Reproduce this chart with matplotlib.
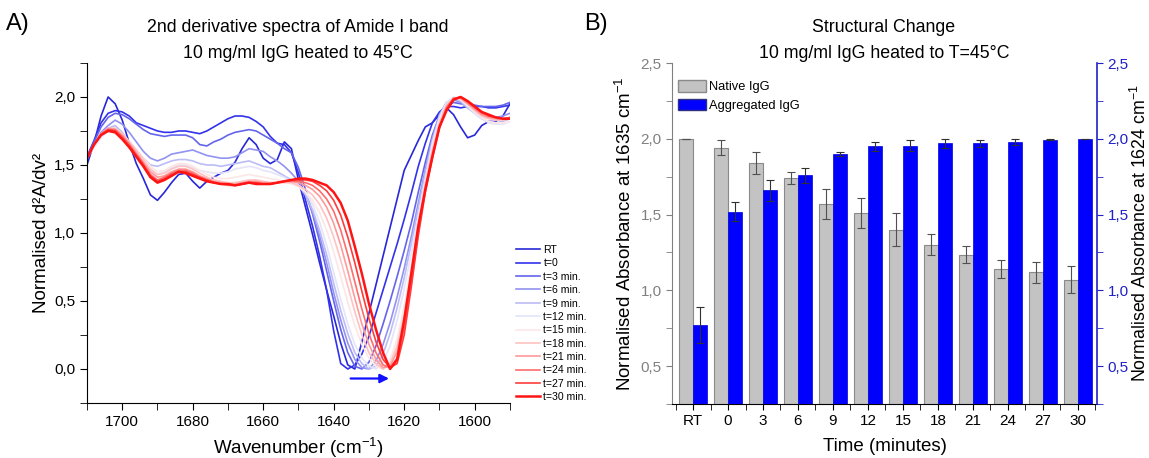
import matplotlib
matplotlib.use('Agg')
import matplotlib.pyplot as plt
from matplotlib.ticker import MultipleLocator, FuncFormatter, FixedLocator
from matplotlib.patches import Patch

plt.rcParams['font.family'] = ['Liberation Sans', 'DejaVu Sans']
plt.rcParams['mathtext.fontset'] = 'custom'
plt.rcParams['mathtext.rm'] = 'Liberation Sans'
plt.rcParams['mathtext.default'] = 'regular'

# ---------------- Panel A data ----------------
wavenumber = [1710, 1708, 1706, 1704, 1702, 1700, 1698, 1696, 1694, 1692,
              1690, 1688, 1686, 1684, 1682, 1680, 1678, 1676, 1674, 1672,
              1670, 1668, 1666, 1664, 1662, 1660, 1658, 1656, 1654, 1652,
              1650, 1648, 1646, 1644, 1642, 1640, 1638, 1636, 1634, 1632,
              1630, 1628, 1626, 1624, 1622, 1620, 1618, 1616, 1614, 1612,
              1610, 1608, 1606, 1604, 1602, 1600, 1598, 1596, 1594, 1592,
              1590]

spec_RT = [1.50, 1.66, 1.86, 2.00, 1.95, 1.83, 1.66, 1.51, 1.40, 1.28,
           1.24, 1.30, 1.37, 1.43, 1.44, 1.38, 1.33, 1.38, 1.41, 1.44,
           1.46, 1.52, 1.62, 1.70, 1.65, 1.55, 1.51, 1.54, 1.67, 1.62,
           1.39, 1.19, 0.99, 0.78, 0.58, 0.39, 0.19, 0.03, 0.00, 0.20,
           0.41, 0.62, 0.83, 1.04, 1.25, 1.46, 1.57, 1.68, 1.78, 1.81,
           1.87, 1.92, 1.87, 1.78, 1.70, 1.72, 1.79, 1.82, 1.82, 1.86,
           1.95]
spec_t0 = [1.56, 1.68, 1.81, 1.88, 1.90, 1.89, 1.86, 1.81, 1.79, 1.77,
           1.75, 1.74, 1.74, 1.75, 1.75, 1.74, 1.73, 1.75, 1.78, 1.81,
           1.84, 1.86, 1.86, 1.85, 1.82, 1.78, 1.71, 1.66, 1.65, 1.59,
           1.44, 1.24, 1.05, 0.83, 0.58, 0.28, 0.04, 0.00, 0.03, 0.11,
           0.24, 0.41, 0.58, 0.75, 0.92, 1.10, 1.29, 1.49, 1.66, 1.81,
           1.89, 1.93, 1.93, 1.92, 1.93, 1.93, 1.93, 1.92, 1.92, 1.93,
           1.94]
spec_t3 = [1.55, 1.67, 1.78, 1.85, 1.88, 1.87, 1.84, 1.80, 1.76, 1.73,
           1.72, 1.71, 1.72, 1.72, 1.72, 1.70, 1.65, 1.64, 1.67, 1.69,
           1.72, 1.74, 1.75, 1.76, 1.75, 1.72, 1.69, 1.66, 1.62, 1.59,
           1.48, 1.32, 1.14, 0.94, 0.72, 0.50, 0.29, 0.12, 0.02, 0.00,
           0.05, 0.17, 0.33, 0.50, 0.68, 0.87, 1.07, 1.30, 1.52, 1.72,
           1.86, 1.93, 1.96, 1.95, 1.95, 1.94, 1.93, 1.93, 1.93, 1.94,
           1.96]
spec_t6 = [1.55, 1.65, 1.74, 1.79, 1.83, 1.80, 1.74, 1.67, 1.60, 1.55,
           1.53, 1.55, 1.58, 1.59, 1.60, 1.61, 1.59, 1.57, 1.56, 1.55,
           1.55, 1.56, 1.59, 1.62, 1.61, 1.60, 1.56, 1.53, 1.49, 1.44,
           1.38, 1.28, 1.15, 0.98, 0.78, 0.56, 0.36, 0.19, 0.07, 0.01,
           0.00, 0.06, 0.18, 0.34, 0.53, 0.74, 0.97, 1.22, 1.47, 1.70,
           1.87, 1.96, 1.98, 1.96, 1.92, 1.89, 1.86, 1.85, 1.85, 1.86,
           1.88]
spec_t9 = [1.55, 1.64, 1.72, 1.77, 1.79, 1.74, 1.67, 1.61, 1.55, 1.50,
           1.49, 1.51, 1.53, 1.54, 1.54, 1.53, 1.51, 1.50, 1.50, 1.49,
           1.50, 1.51, 1.52, 1.53, 1.51, 1.49, 1.48, 1.45, 1.42, 1.39,
           1.35, 1.28, 1.17, 1.02, 0.84, 0.63, 0.43, 0.26, 0.12, 0.04,
           0.00, 0.02, 0.11, 0.26, 0.45, 0.67, 0.92, 1.18, 1.44, 1.68,
           1.86, 1.96, 1.99, 1.97, 1.92, 1.88, 1.84, 1.82, 1.81, 1.82,
           1.84]
spec_t12 = [1.55, 1.63, 1.70, 1.75, 1.77, 1.71, 1.63, 1.56, 1.50, 1.45,
            1.43, 1.45, 1.48, 1.50, 1.50, 1.48, 1.46, 1.45, 1.44, 1.44,
            1.45, 1.47, 1.48, 1.49, 1.48, 1.46, 1.45, 1.43, 1.41, 1.38,
            1.35, 1.30, 1.21, 1.08, 0.91, 0.71, 0.51, 0.33, 0.18, 0.08,
            0.02, 0.00, 0.05, 0.17, 0.36, 0.59, 0.85, 1.12, 1.40, 1.66,
            1.85, 1.96, 2.00, 1.98, 1.93, 1.88, 1.84, 1.81, 1.80, 1.80,
            1.82]
spec_t15 = [1.55, 1.64, 1.72, 1.76, 1.77, 1.73, 1.67, 1.61, 1.55, 1.49,
            1.45, 1.46, 1.49, 1.51, 1.51, 1.49, 1.46, 1.43, 1.41, 1.40,
            1.40, 1.41, 1.42, 1.43, 1.42, 1.41, 1.40, 1.39, 1.38, 1.36,
            1.34, 1.30, 1.24, 1.15, 1.02, 0.86, 0.68, 0.49, 0.32, 0.18,
            0.08, 0.02, 0.00, 0.07, 0.22, 0.46, 0.76, 1.08, 1.38, 1.63,
            1.82, 1.94, 1.99, 1.98, 1.94, 1.89, 1.85, 1.82, 1.81, 1.81,
            1.82]
spec_t18 = [1.55, 1.65, 1.73, 1.77, 1.77, 1.73, 1.67, 1.61, 1.54, 1.47,
            1.43, 1.44, 1.47, 1.49, 1.49, 1.47, 1.44, 1.41, 1.39, 1.38,
            1.37, 1.37, 1.38, 1.39, 1.39, 1.38, 1.37, 1.37, 1.37, 1.37,
            1.35, 1.32, 1.28, 1.21, 1.11, 0.97, 0.80, 0.61, 0.42, 0.25,
            0.12, 0.04, 0.00, 0.04, 0.17, 0.40, 0.71, 1.05, 1.36, 1.61,
            1.81, 1.94, 1.99, 1.99, 1.95, 1.90, 1.86, 1.84, 1.83, 1.83,
            1.84]
spec_t21 = [1.55, 1.65, 1.73, 1.77, 1.76, 1.72, 1.66, 1.59, 1.52, 1.45,
            1.41, 1.42, 1.45, 1.47, 1.47, 1.45, 1.42, 1.40, 1.38, 1.37,
            1.36, 1.36, 1.37, 1.38, 1.38, 1.37, 1.37, 1.37, 1.38, 1.38,
            1.37, 1.35, 1.32, 1.27, 1.19, 1.07, 0.91, 0.72, 0.52, 0.33,
            0.18, 0.07, 0.01, 0.02, 0.13, 0.36, 0.67, 1.02, 1.34, 1.59,
            1.79, 1.93, 1.99, 1.99, 1.95, 1.91, 1.87, 1.85, 1.84, 1.84,
            1.85]
spec_t24 = [1.55, 1.65, 1.73, 1.76, 1.76, 1.71, 1.65, 1.58, 1.51, 1.43,
            1.39, 1.41, 1.44, 1.46, 1.46, 1.44, 1.41, 1.39, 1.37, 1.36,
            1.35, 1.35, 1.36, 1.37, 1.37, 1.36, 1.36, 1.37, 1.38, 1.38,
            1.38, 1.37, 1.35, 1.31, 1.25, 1.16, 1.02, 0.84, 0.64, 0.44,
            0.26, 0.12, 0.03, 0.01, 0.08, 0.30, 0.63, 1.00, 1.32, 1.57,
            1.78, 1.92, 1.99, 2.00, 1.96, 1.92, 1.88, 1.86, 1.85, 1.84,
            1.85]
spec_t27 = [1.55, 1.65, 1.72, 1.76, 1.75, 1.70, 1.64, 1.57, 1.50, 1.42,
            1.38, 1.40, 1.43, 1.45, 1.45, 1.43, 1.41, 1.39, 1.37, 1.36,
            1.36, 1.35, 1.36, 1.37, 1.37, 1.36, 1.36, 1.37, 1.38, 1.39,
            1.39, 1.39, 1.38, 1.35, 1.31, 1.24, 1.13, 0.97, 0.78, 0.57,
            0.37, 0.20, 0.07, 0.01, 0.04, 0.25, 0.60, 0.98, 1.30, 1.55,
            1.77, 1.91, 1.98, 2.00, 1.97, 1.93, 1.89, 1.86, 1.85, 1.84,
            1.84]
spec_t30 = [1.55, 1.65, 1.72, 1.75, 1.74, 1.69, 1.63, 1.56, 1.49, 1.41,
            1.37, 1.39, 1.42, 1.45, 1.44, 1.42, 1.40, 1.38, 1.37, 1.36,
            1.36, 1.35, 1.36, 1.37, 1.36, 1.36, 1.36, 1.37, 1.38, 1.39,
            1.40, 1.40, 1.39, 1.37, 1.35, 1.30, 1.22, 1.09, 0.90, 0.70,
            0.48, 0.29, 0.12, 0.00, 0.07, 0.36, 0.70, 1.05, 1.32, 1.56,
            1.78, 1.90, 1.98, 2.00, 1.97, 1.93, 1.89, 1.87, 1.85, 1.84,
            1.84]

spectra = [spec_RT, spec_t0, spec_t3, spec_t6, spec_t9, spec_t12,
           spec_t15, spec_t18, spec_t21, spec_t24, spec_t27, spec_t30]
spectra_labels = ['RT', 't=0', 't=3 min.', 't=6 min.', 't=9 min.', 't=12 min.',
                  't=15 min.', 't=18 min.', 't=21 min.', 't=24 min.',
                  't=27 min.', 't=30 min.']
spectra_colors = ['#2828d8', '#3232ec', '#6464ec', '#9292f2', '#bcbcf6', '#e4e4fb',
                  '#fde6e6', '#ffc2c2', '#ff9a9a', '#ff6c6c', '#ff3c3c', '#ff1414']

# ---------------- Panel B data ----------------
time_labels = ['RT', '0', '3', '6', '9', '12', '15', '18', '21', '24', '27', '30']
native = [2.00, 1.94, 1.84, 1.74, 1.57, 1.51, 1.40, 1.30, 1.235, 1.14, 1.12, 1.07]
native_err = [0.0, 0.05, 0.075, 0.04, 0.10, 0.10, 0.11, 0.07, 0.055, 0.06, 0.07, 0.09]
aggregated = [0.77, 1.52, 1.66, 1.76, 1.90, 1.95, 1.955, 1.97, 1.97, 1.98, 1.995, 2.00]
aggregated_err = [0.12, 0.06, 0.07, 0.05, 0.015, 0.03, 0.035, 0.03, 0.025, 0.02, 0.005, 0.0]

comma = FuncFormatter(lambda v, p: f"{v:.1f}".replace('.', ','))

TICK = 11
LAB = 13.5
TITLE = 12.8

fig = plt.figure(figsize=(11.49, 4.58), dpi=100)

# ---------------- Panel A ----------------
axA = fig.add_axes([0.0757, 0.1201, 0.3681, 0.7424])
for y, lab, col in zip(spectra, spectra_labels, spectra_colors):
    lw = 1.8 if lab == 't=30 min.' else 1.2
    axA.plot(wavenumber, y, color=col, lw=lw, label=lab)
axA.set_xlim(1710, 1590)
axA.set_ylim(-0.25, 2.25)
axA.xaxis.set_major_locator(MultipleLocator(20))
axA.xaxis.set_minor_locator(MultipleLocator(10))
axA.yaxis.set_major_locator(MultipleLocator(0.5))
axA.yaxis.set_minor_locator(MultipleLocator(0.25))
axA.yaxis.set_major_formatter(comma)
axA.spines['top'].set_visible(False)
axA.spines['right'].set_visible(False)
axA.tick_params(which='both', direction='out', labelsize=TICK, length=5)
axA.set_xlabel('Wavenumber (cm$^{-1}$)', fontsize=LAB, labelpad=5)
axA.set_ylabel('Normalised d²A/dv²', fontsize=LAB, labelpad=3)
axA.annotate('', xy=(1624.3, -0.07), xytext=(1635.2, -0.07),
             arrowprops=dict(arrowstyle='-|>', color='#1010ff', lw=1.6,
                             mutation_scale=13, shrinkA=0, shrinkB=0))
axA.legend(loc='upper left', bbox_to_anchor=(516 / 1149, 1 - 245 / 458),
           bbox_transform=fig.transFigure, frameon=False, fontsize=7.6,
           handlelength=2.3, handletextpad=0.3, labelspacing=0.32,
           borderpad=0, borderaxespad=0)

fig.text(298 / 1149, 1 - 28 / 458, '2nd derivative spectra of Amide I band',
         ha='center', va='center', fontsize=TITLE)
fig.text(298 / 1149, 1 - 53 / 458, '10 mg/ml IgG heated to 45°C',
         ha='center', va='center', fontsize=TITLE)
fig.text(6 / 1149, 1 - 24 / 458, 'A)', ha='left', va='center', fontsize=17)

# ---------------- Panel B ----------------
x = list(range(len(time_labels)))
xn = [i - 0.2 for i in x]
xa = [i + 0.2 for i in x]
grey = '#808080'
blue_ax = '#2020c8'

axB = fig.add_axes([0.5849, 0.1179, 0.3699, 0.7445])
axB.bar(xn, native, 0.4, color='#c3c3c3', edgecolor='#8a8a8a', lw=0.8,
        yerr=native_err, capsize=3,
        error_kw=dict(ecolor='#505050', elinewidth=0.8, capthick=0.8), zorder=2)
axB.set_xlim(-0.6, 11.55)
axB.set_ylim(0.25, 2.5)
axB.set_xticks(x)
axB.set_xticklabels(time_labels)
axB.xaxis.set_minor_locator(FixedLocator([i + 0.5 for i in range(-1, 12)]))
axB.yaxis.set_major_locator(MultipleLocator(0.5))
axB.yaxis.set_minor_locator(MultipleLocator(0.25))
axB.yaxis.set_major_formatter(comma)
axB.spines['top'].set_visible(False)
axB.spines['right'].set_visible(False)
axB.spines['left'].set_color(grey)
axB.tick_params(which='both', direction='out', labelsize=TICK, length=4)
axB.tick_params(axis='y', which='both', colors=grey, labelcolor=grey)
axB.set_xlabel('Time (minutes)', fontsize=LAB, labelpad=7)
axB.set_ylabel('Normalised Absorbance at 1635 cm$^{-1}$', fontsize=LAB, labelpad=4)

axB2 = axB.twinx()
axB2.bar(xa, aggregated, 0.4, color='#0000ff', edgecolor='#0000e0', lw=0.5,
         yerr=aggregated_err, capsize=3,
         error_kw=dict(ecolor='#303030', elinewidth=0.8, capthick=0.8), zorder=2)
axB2.set_ylim(0.25, 2.5)
axB2.yaxis.set_major_locator(MultipleLocator(0.5))
axB2.yaxis.set_minor_locator(MultipleLocator(0.25))
axB2.yaxis.set_major_formatter(comma)
axB2.spines['top'].set_visible(False)
axB2.spines['left'].set_visible(False)
axB2.spines['bottom'].set_visible(False)
axB2.spines['right'].set_color(blue_ax)
axB2.spines['right'].set_linewidth(1.2)
axB2.tick_params(which='both', direction='out', labelsize=TICK, length=4,
                 colors=blue_ax, labelcolor=blue_ax)
axB2.set_ylabel('Normalised Absorbance at 1624 cm$^{-1}$', fontsize=12.8, labelpad=1)

handles = [Patch(facecolor='#c3c3c3', edgecolor='#8a8a8a', label='Native IgG'),
           Patch(facecolor='#0000ff', edgecolor='#303080', label='Aggregated IgG')]
axB2.legend(handles=handles, loc='upper left', bbox_to_anchor=(678 / 1149, 1 - 80 / 458),
            bbox_transform=fig.transFigure, frameon=False, fontsize=9.3,
            handlelength=2.2, handleheight=1.0, handletextpad=0.2,
            labelspacing=0.42, borderpad=0, borderaxespad=0)

fig.text(884 / 1149, 1 - 28 / 458, 'Structural Change',
         ha='center', va='center', fontsize=TITLE)
fig.text(884 / 1149, 1 - 53 / 458, '10 mg/ml IgG heated to T=45°C',
         ha='center', va='center', fontsize=TITLE)
fig.text(584 / 1149, 1 - 24 / 458, 'B)', ha='left', va='center', fontsize=17)

fig.savefig('out.png', dpi=100)
